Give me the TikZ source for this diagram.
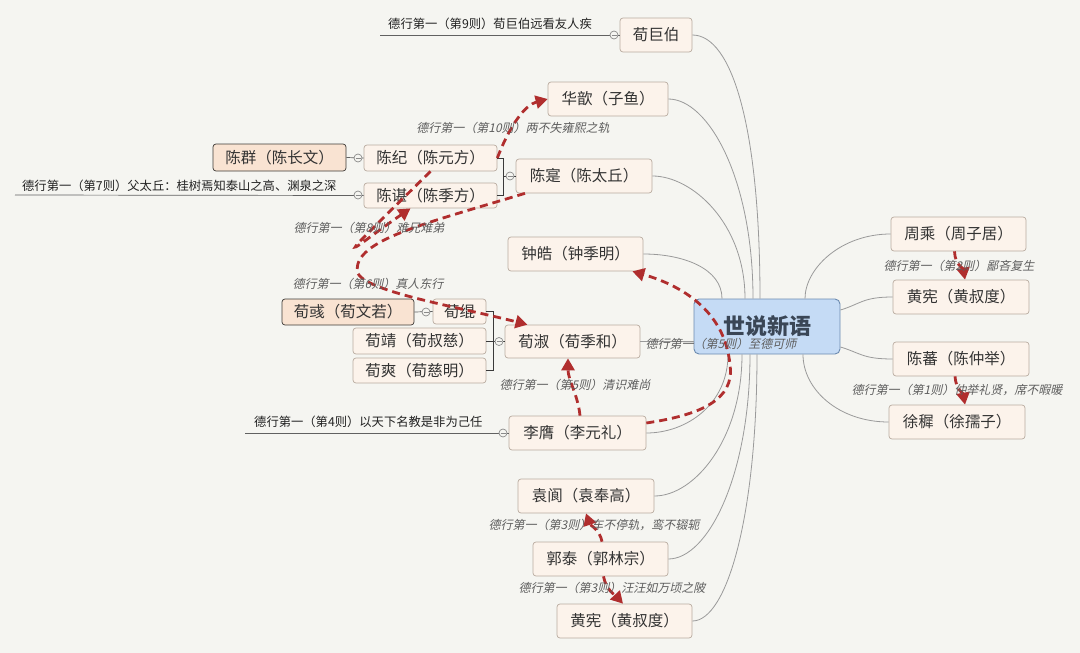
\documentclass[tikz,border=0pt]{standalone}
\usepackage{fontspec}
\setmainfont{Noto Sans CJK SC}
\newfontfamily\cjk{Noto Sans CJK SC}
\newfontfamily\cjkit[FakeSlant=0.22]{Noto Sans CJK SC}
\usetikzlibrary{arrows.meta}
\definecolor{bgc}{HTML}{F5F5F1}
\definecolor{nodefill}{HTML}{FCF3EB}
\definecolor{nodeborder}{HTML}{B9ACA0}
\definecolor{hlfill}{HTML}{F9E3D2}
\definecolor{hlborder}{HTML}{3D3A36}
\definecolor{txt}{HTML}{333333}
\definecolor{roottxt}{HTML}{3A4656}
\definecolor{rootfill}{HTML}{C5DBF5}
\definecolor{rootborder}{HTML}{6C8BB0}
\definecolor{lblc}{HTML}{5E5E5E}
\definecolor{notec}{HTML}{222222}
\definecolor{twigc}{HTML}{9A9A9A}
\definecolor{brc}{HTML}{3A3A3A}
\definecolor{knobc}{HTML}{8A8A8A}
\definecolor{relc}{HTML}{B02E2E}
\tikzset{
  nd/.style={draw=nodeborder, fill=nodefill, rounded corners=3pt, line width=0.7pt, inner sep=0pt,
    font=\cjk\fontsize{15.5}{18}\selectfont, text=txt},
  hl/.style={nd, draw=hlborder, fill=hlfill},
  rootnode/.style={draw=rootborder, fill=rootfill, rounded corners=5pt, line width=0.9pt, inner sep=0pt,
    font=\cjk\bfseries\fontsize{22}{26}\selectfont, text=roottxt},
  lbl/.style={font=\cjkit\fontsize{12}{14}\selectfont, text=lblc, inner sep=0pt},
  note/.style={font=\cjk\fontsize{12.3}{14}\selectfont, text=notec, inner sep=0pt, anchor=west},
  br/.style={draw=brc, line width=0.8pt},
  twig/.style={draw=twigc, line width=0.8pt},
  knob/.style={circle, draw=knobc, line width=0.7pt, minimum size=8pt, inner sep=0pt},
  rel/.style={draw=relc, line width=2.8pt, dash pattern=on 8pt off 5pt, -{Triangle[length=12pt,width=13pt]}},
}
\begin{document}
\begin{tikzpicture}[x=1pt,y=-1pt]
\fill[bgc] (0,0) rectangle (1080,653);
\useasboundingbox (0,0) rectangle (1080,653);

% ---- nodes ----
\node[rootnode, minimum width=146pt, minimum height=55pt] (root) at (767,326.5) {世说新语};

\node[nd, minimum width=72pt, minimum height=34pt] (hjb) at (656,35) {荀巨伯};
\node[nd, minimum width=120pt, minimum height=34pt] (hx) at (608,99) {华歆（子鱼）};
\node[nd, minimum width=136pt, minimum height=34pt] (cs) at (584,176) {陈寔（陈太丘）};
\node[nd, minimum width=133pt, minimum height=26pt] (cj) at (430.5,158) {陈纪（陈元方）};
\node[nd, minimum width=133pt, minimum height=25pt] (cz) at (430.5,195.5) {陈谌（陈季方）};
\node[hl, minimum width=133pt, minimum height=27pt] (cq) at (279.5,157.5) {陈群（陈长文）};
\node[nd, minimum width=135pt, minimum height=34pt] (zh) at (575.5,254) {钟皓（钟季明）};
\node[nd, minimum width=135pt, minimum height=33pt] (xs) at (572.5,341.5) {荀淑（荀季和）};
\node[nd, minimum width=53pt, minimum height=25pt] (xg) at (459.5,311.5) {荀绲};
\node[hl, minimum width=132pt, minimum height=26pt] (xy) at (348,312) {荀彧（荀文若）};
\node[nd, minimum width=133pt, minimum height=26pt] (xj) at (419.5,341) {荀靖（荀叔慈）};
\node[nd, minimum width=133pt, minimum height=25pt] (xsh) at (419.5,370.5) {荀爽（荀慈明）};
\node[nd, minimum width=137pt, minimum height=34pt] (ly) at (577.5,433) {李膺（李元礼）};
\node[nd, minimum width=136pt, minimum height=34pt] (yl) at (586,496) {袁阆（袁奉高）};
\node[nd, minimum width=135pt, minimum height=34pt] (gt) at (600.5,559) {郭泰（郭林宗）};
\node[nd, minimum width=135pt, minimum height=34pt] (hb) at (624.5,621) {黄宪（黄叔度）};
\node[nd, minimum width=135pt, minimum height=34pt] (zc) at (958.5,234) {周乘（周子居）};
\node[nd, minimum width=136pt, minimum height=34pt] (hr) at (961,297) {黄宪（黄叔度）};
\node[nd, minimum width=136pt, minimum height=34pt] (cf) at (961,359) {陈蕃（陈仲举）};
\node[nd, minimum width=136pt, minimum height=34pt] (xz) at (957,422) {徐穉（徐孺子）};

% ---- notes with underline ----
\node[note] (n9) at (388,24) {德行第一（第9则）荀巨伯远看友人疾};
\node[note] (n7) at (22,186) {德行第一（第7则）父太丘：桂树焉知泰山之高、渊泉之深};
\node[note] (n4) at (254,422) {德行第一（第4则）以天下名教是非为己任};
\coordinate (n9s) at (380,35);
\coordinate (n7s) at (15,195);
\coordinate (n4s) at (245,433);
\draw[brc!80, line width=0.7pt] (n9s) -- (hjb.west);
\draw[brc!80, line width=0.7pt] (n7s) -- (cz.west);
\draw[brc!80, line width=0.7pt] (n4s) -- (ly.west);
\draw[brc!80, line width=0.7pt] (cq.east) -- (cj.west);
\draw[brc!80, line width=0.7pt] (xy.east) -- (xg.west);

% ---- brackets ----
\coordinate (b1t) at (503,158);
\coordinate (b1b) at (503,195.5);
\coordinate (b1m) at (503,176);
\draw[br] (cj.east) -- (b1t) -- (b1b) -- (cz.east);
\draw[br] (b1m) -- (cs.west);
\coordinate (b2t) at (493,311.5);
\coordinate (b2b) at (493,370.5);
\coordinate (b2m) at (493,341.5);
\draw[br] (xg.east) -- (b2t) -- (b2b) -- (xsh.east);
\draw[br] (xj.east) -- (xj.east -| b2m);
\draw[br] (b2m) -- (xs.west);

% ---- knobs ----
\node[knob, fill=bgc] (k9) at (614,35) {};
\node[knob, fill=bgc] (k7) at (358,195) {};
\node[knob, fill=bgc] (k4) at (503,433) {};
\node[knob, fill=bgc] (kcq) at (358,158) {};
\node[knob, fill=bgc] (kxy) at (426,312) {};
\node[knob, fill=bgc] (kcs) at (510,176) {};
\node[knob, fill=bgc] (kxs) at (499,341.5) {};
\foreach \k in {k9,k7,k4,kcq,kxy,kcs,kxs}{\draw[knobc, line width=0.7pt] ([xshift=-2.5pt]\k.center) -- ([xshift=2.5pt]\k.center);}

% ---- gray branches to root ----
\draw[twig] (hjb.east) .. controls +(40,0) and +(0,-170) .. ([xshift=-7pt]root.north);
\draw[twig] (hx.east) .. controls +(40,0) and +(0,-120) .. ([xshift=-14pt]root.north);
\draw[twig] (cs.east) .. controls +(40,0) and +(0,-75) .. ([xshift=-22pt]root.north);
\draw[twig] (zh.east) .. controls +(40,0) and +(0,-30) .. ([xshift=-45pt]root.north);
\draw[twig] (xs.east) -- (xs.east -| root.west);
\draw[twig] (ly.east) .. controls +(40,0) and +(0,50) .. ([xshift=-39pt]root.south);
\draw[twig] (yl.east) .. controls +(40,0) and +(0,85) .. ([xshift=-25pt]root.south);
\draw[twig] (gt.east) .. controls +(40,0) and +(0,120) .. ([xshift=-17pt]root.south);
\draw[twig] (hb.east) .. controls +(35,0) and +(0,160) .. ([xshift=-10pt]root.south);
\draw[twig] (zc.west) .. controls +(-50,0) and +(0,-30) .. ([xshift=38pt]root.north);
\draw[twig] (hr.west) .. controls +(-30,0) and +(20,-6) .. ([yshift=16.5pt]root.east);
\draw[twig] (cf.west) .. controls +(-30,0) and +(20,6) .. ([yshift=-20.5pt]root.east);
\draw[twig] (xz.west) .. controls +(-50,0) and +(0,35) .. ([xshift=36pt]root.south);

% ---- relation arrows ----
\coordinate (bend6) at (357,270);
\coordinate (bend5) at (730,365);
\draw[rel] (cj.east) .. controls (510,125) and (525,105) .. (hx.west);
\draw[rel] (cj.south) .. controls (320,280) and (350,250) .. ([xshift=-20pt]cz.south);
\draw[rel] ([xshift=-59pt]cs.south) .. controls (420,225) and (357,240) .. (bend6) .. controls (357,290) and (450,305) .. ([xshift=-45pt]xs.north);
\draw[rel] ([xshift=2.5pt]ly.north) .. controls (578,395) and (568,380) .. ([xshift=-4.5pt]xs.south);
\draw[rel] ([yshift=10pt]ly.east) .. controls (700,415) and (735,400) .. (bend5) .. controls (725,310) and (680,285) .. ([xshift=-11pt]zh.south east);
\draw[rel] ([xshift=-4pt]zc.south) .. controls (955,265) and (963,268) .. ([xshift=4pt]hr.north);
\draw[rel] ([xshift=-6pt]cf.south) .. controls (956,390) and (963,393) .. ([xshift=8pt]xz.north);
\draw[rel] ([xshift=1.5pt]gt.north) .. controls (600,530) and (590,525) .. (yl.south);
\draw[rel] ([xshift=3pt]gt.south) .. controls (606,590) and (615,595) .. ([xshift=-1.5pt]hb.north);

% ---- relation labels ----
\node[lbl] (l10) at (513,128) {德行第一（第10则）两不失雍熙之轨};
\node[lbl] (l8) at (369,228) {德行第一（第8则）难兄难弟};
\node[lbl] (l6) at (368,284) {德行第一（第6则）真人东行};
\node[lbl] (l5a) at (575,385) {德行第一（第5则）清识难尚};
\node[lbl] (l5b) at (721,344) {德行第一（第5则）至德可师};
\node[lbl] (l3a) at (594,525) {德行第一（第3则）车不停轨，鸾不辍轭};
\node[lbl] (l3b) at (612,588) {德行第一（第3则）汪汪如万顷之陂};
\node[lbl] (l2) at (959,266) {德行第一（第2则）鄙吝复生};
\node[lbl] (l1) at (957,390) {德行第一（第1则）仲举礼贤，席不暇暖};
\end{tikzpicture}
\end{document}
